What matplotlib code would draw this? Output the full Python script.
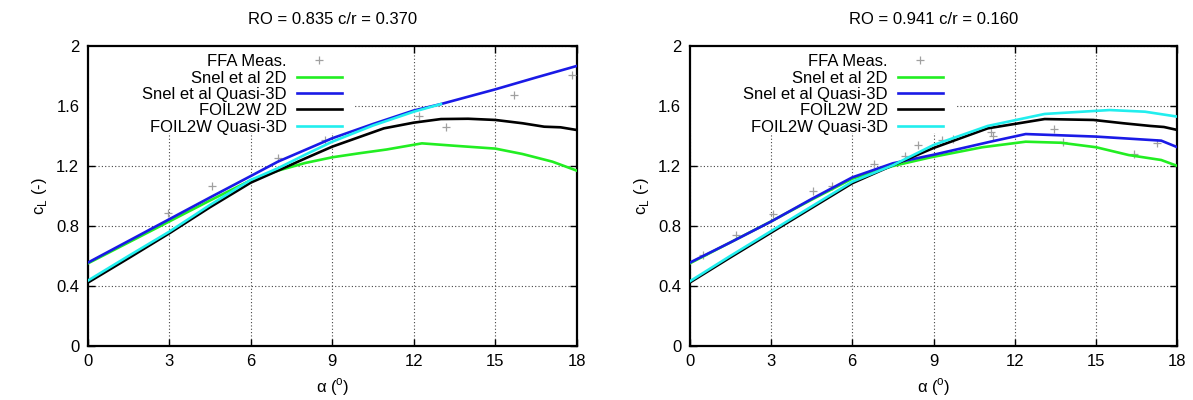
"""
Lift coefficient vs angle of attack at two radial stations
"""

import matplotlib
matplotlib.use("Agg")
import matplotlib.pyplot as plt
from matplotlib.patches import Rectangle

plt.rcParams['font.family'] = ['Liberation Sans', 'DejaVu Sans']
plt.rcParams['mathtext.fontset'] = 'custom'
plt.rcParams['mathtext.rm'] = 'Liberation Sans'
plt.rcParams['font.size'] = 12

# --- left station: RO = 0.835, c/r = 0.370 ---
ffa_a_1 = [2.94, 4.57, 7.02, 8.73, 12.21, 13.17, 15.67, 17.81]
ffa_cl_1 = [0.885, 1.069, 1.251, 1.373, 1.533, 1.462, 1.673, 1.809]

snel2d_a_1 = [0, 1.5, 3, 4.5, 6, 7, 8, 9, 10, 11, 12.3, 13.5, 15, 16, 17.1, 18]
snel2d_cl_1 = [0.55, 0.69, 0.83, 0.97, 1.105, 1.169, 1.22, 1.258, 1.285, 1.31,
               1.351, 1.335, 1.316, 1.28, 1.229, 1.169]

snel3d_a_1 = [0, 1.5, 3, 4.5, 6, 7, 9, 10.5, 12, 13, 15, 16.5, 18]
snel3d_cl_1 = [0.555, 0.70, 0.845, 0.99, 1.133, 1.229, 1.385, 1.48, 1.57, 1.613,
               1.711, 1.79, 1.867]

foil2d_a_1 = [0, 1.5, 3, 4.5, 6, 7, 8, 9, 10.9, 12, 13, 14, 15, 16, 16.8, 17.4, 18]
foil2d_cl_1 = [0.422, 0.585, 0.751, 0.925, 1.089, 1.169, 1.25, 1.329, 1.451,
               1.489, 1.513, 1.515, 1.507, 1.485, 1.462, 1.458, 1.44]

foil3d_a_1 = [0, 1.5, 3, 4.5, 6, 7, 8, 9, 10.5, 12, 13]
foil3d_cl_1 = [0.435, 0.60, 0.762, 0.94, 1.107, 1.185, 1.275, 1.362, 1.47,
               1.562, 1.613]

# --- right station: RO = 0.941, c/r = 0.160 ---
ffa_a_2 = [0.51, 1.71, 3.08, 4.57, 5.25, 6.81, 7.95, 8.42, 9.33, 9.71,
           11.13, 11.2, 13.43, 13.76, 16.4, 17.24]
ffa_cl_2 = [0.61, 0.737, 0.88, 1.036, 1.067, 1.211, 1.265, 1.339, 1.371, 1.38,
            1.429, 1.40, 1.444, 1.362, 1.278, 1.356]

snel2d_a_2 = [0, 1.5, 3, 4.5, 6, 7.5, 8.9, 10.8, 12.4, 13.7, 15, 16.2, 17.4, 18]
snel2d_cl_2 = [0.55, 0.69, 0.83, 0.975, 1.115, 1.2, 1.258, 1.325, 1.362, 1.355,
               1.325, 1.273, 1.24, 1.2]

snel3d_a_2 = [0, 1.5, 3, 4.5, 6, 7.5, 9, 11.1, 12.4, 15, 17.4, 18]
snel3d_cl_2 = [0.555, 0.69, 0.829, 0.98, 1.124, 1.218, 1.275, 1.362, 1.413,
               1.396, 1.369, 1.325]

foil2d_a_2 = [0, 1.5, 3, 4.5, 6, 7.5, 9, 11, 13.1, 14.9, 16, 17, 17.5, 18]
foil2d_cl_2 = [0.422, 0.59, 0.755, 0.92, 1.085, 1.205, 1.32, 1.451, 1.513,
               1.507, 1.485, 1.467, 1.46, 1.44]

foil3d_a_2 = [0, 1.5, 3, 4.5, 6, 7.5, 9, 11, 13.1, 15.5, 16.8, 18]
foil3d_cl_2 = [0.43, 0.60, 0.765, 0.93, 1.095, 1.205, 1.34, 1.467, 1.547,
               1.573, 1.562, 1.529]

titles = ["RO = 0.835 c/r = 0.370", "RO = 0.941 c/r = 0.160"]
x_ticks = [0, 3, 6, 9, 12, 15, 18]
y_ticks = [0, 0.4, 0.8, 1.2, 1.6, 2.0]
y_tick_labels = ["0", "0.4", "0.8", "1.2", "1.6", "2"]

GREEN = "#22ee22"
BLUE = "#1a1ae6"
BLACK = "#000000"
CYAN = "#22eeee"
GREY = "#a0a0a0"


def draw_panel(ax, title, ffa, snel2d, snel3d, foil2d, foil3d):
    # white key background hides the grid behind the legend, like gnuplot
    ax.add_patch(Rectangle((0, 0.71), 0.544, 0.29, transform=ax.transAxes,
                           facecolor="white", edgecolor="none", zorder=1.5))
    ax.plot(*ffa, linestyle="none", marker="+", color=GREY, ms=6, mew=0.9,
            label="FFA Meas.", zorder=3)
    ax.plot(*snel2d, color=GREEN, lw=1.9, label="Snel et al 2D", zorder=3)
    ax.plot(*snel3d, color=BLUE, lw=1.9, label="Snel et al Quasi-3D", zorder=3)
    ax.plot(*foil2d, color=BLACK, lw=1.9, label="FOIL2W 2D", zorder=3)
    ax.plot(*foil3d, color=CYAN, lw=1.9, label="FOIL2W Quasi-3D", zorder=3)

    ax.set_xlim(0, 18)
    ax.set_ylim(0, 2)
    ax.set_xticks(x_ticks)
    ax.set_yticks(y_ticks)
    ax.set_yticklabels(y_tick_labels)
    ax.set_axisbelow(True)
    ax.grid(True, linestyle=(0, (1, 2)), color="#444444", lw=0.8)
    ax.tick_params(direction="in", top=True, right=True, length=5, width=1,
                   labelsize=12, pad=6)
    for sp in ax.spines.values():
        sp.set_linewidth(1.6)

    ax.set_title(title, fontsize=12, pad=16)
    ax.set_xlabel("α ($^{\\mathrm{o}}$)", fontsize=12, labelpad=5)
    ax.set_ylabel("c$_{\\mathrm{L}}$ (-)", fontsize=12, labelpad=5)

    leg = ax.legend(loc="upper right", bbox_to_anchor=(0.536, 1.0),
                    markerfirst=False, frameon=False, handlelength=2.7,
                    handletextpad=0.6, labelspacing=0.08, borderpad=0.0,
                    fontsize=12)
    leg.set_zorder(4)


fig = plt.figure(figsize=(11.93, 4.0), dpi=100)
ax1 = fig.add_axes([0.0735, 0.135, 0.41, 0.75])
ax2 = fig.add_axes([0.578, 0.135, 0.409, 0.75])

draw_panel(ax1, titles[0], (ffa_a_1, ffa_cl_1), (snel2d_a_1, snel2d_cl_1),
           (snel3d_a_1, snel3d_cl_1), (foil2d_a_1, foil2d_cl_1),
           (foil3d_a_1, foil3d_cl_1))
draw_panel(ax2, titles[1], (ffa_a_2, ffa_cl_2), (snel2d_a_2, snel2d_cl_2),
           (snel3d_a_2, snel3d_cl_2), (foil2d_a_2, foil2d_cl_2),
           (foil3d_a_2, foil3d_cl_2))

fig.savefig("out.png", dpi=100)
